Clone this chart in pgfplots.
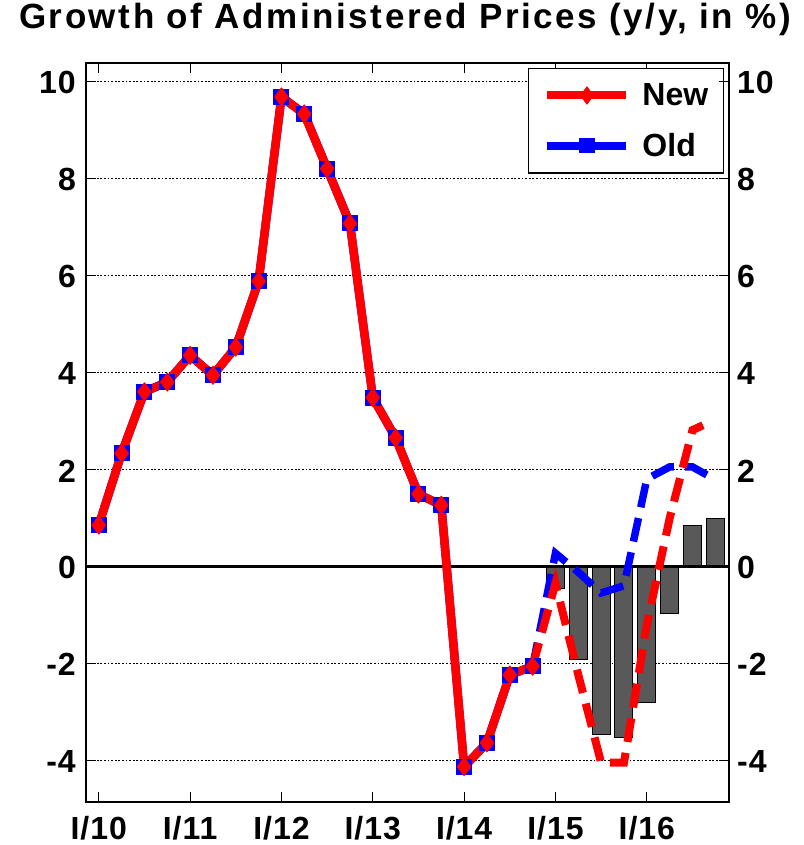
\documentclass[border=0pt]{standalone}
\usepackage{fontspec}
\setmainfont{Liberation Sans}
\newfontfamily\titlefont[LetterSpace=7.4]{Liberation Sans}
\newfontfamily\tickfont[LetterSpace=3]{Liberation Sans}
\usepackage{pgfplots}
\pgfplotsset{compat=1.18}
\definecolor{bargray}{RGB}{89,89,89}
\pgfplotsset{
 common/.style={
  scale only axis, width=643pt, height=739pt,
  xmin=-0.56, xmax=27.6, ymin=-4.86, ymax=10.38,
  axis line style={line width=2.5pt},
  ytick={-4,-2,...,10}, yticklabels={-4,-2,0,2,4,6,8,10},
  tick align=inside,
  major tick length=10pt,
  every tick/.style={black, line width=1.2pt},
  tick label style={font=\fontsize{32}{32}\tickfont\bfseries, inner sep=0pt},
 }
}
\begin{document}
\begin{tikzpicture}
\begin{axis}[common,
  xtick={0,4,...,24},
  xticklabels={I/10,I/11,I/12,I/13,I/14,I/15,I/16},
  xticklabel style={anchor=north, yshift=-14.5pt},
  yticklabel style={anchor=east, xshift=-10pt, yshift=-1.5pt},
  ymajorgrids,
  grid style={black, line width=1pt, dash pattern=on 1.8pt off 1.8pt},
  title={\fontsize{35}{35}\titlefont\bfseries Growth of Administered Prices (y/y, in \%)},
  title style={at={(0.5,1)}, anchor=base, yshift=28pt, xshift=-2.5pt, inner sep=0pt},
  legend style={at={(1,1)}, anchor=north east, xshift=-5pt, yshift=-5pt,
    draw=black, line width=1.5pt, fill=white,
    font=\fontsize{32}{32}\selectfont\bfseries,
    inner xsep=15pt, inner ysep=15pt, row sep=26pt, column sep=12pt,
    cells={anchor=west}, nodes={inner sep=0pt}},
  legend cell align=left,
  legend image code/.code={\draw[mark repeat=2,mark phase=2,#1] plot coordinates {(0pt,0pt) (39.5pt,0pt) (79pt,0pt)};},
]
\addlegendimage{red, line width=8pt, mark=diamond*, mark size=8.5pt, mark options={solid,fill=red,draw=red,line width=1pt}}
\addlegendentry{New}
\addlegendimage{blue, line width=8pt, mark=square*, mark size=7.3pt, mark options={solid,fill=blue,draw=blue,line width=1pt}}
\addlegendentry{Old}

% bars
\addplot[ybar, bar width=18pt, fill=bargray, draw=black, line width=1pt, forget plot] coordinates {
(19,-0.03) (20,-0.45) (21,-1.93) (22,-3.46) (23,-3.53) (24,-2.81) (25,-0.98) (26,0.84) (27,0.99)};
% zero line
\addplot[black, line width=2.5pt, forget plot] coordinates {(-0.56,0) (27.6,0)};
% Old history
\addplot[blue, line width=8.5pt, line join=round, mark=square*, mark size=7.5pt, mark options={solid,fill=blue,draw=blue,line width=1pt}, forget plot] coordinates {
(0,0.85) (1,2.33) (2,3.6) (3,3.8) (4,4.35) (5,3.94) (6,4.52) (7,5.88) (8,9.68) (9,9.33)
(10,8.2) (11,7.07) (12,3.48) (13,2.65) (14,1.49) (15,1.26) (16,-4.13) (17,-3.64) (18,-2.24) (19,-2.06)};
% Old forecast
\addplot[blue, line width=7.5pt, dash pattern=on 24pt off 11pt, forget plot] coordinates {
(19,-2.06) (20,0.27) (21,-0.12) (22,-0.55) (23,-0.4) (24,1.8) (25,2.05) (26,2.05) (26.65,1.88)};
% New history
\addplot[red, line width=8.5pt, line join=round, mark=diamond*, mark size=9pt, mark options={solid,fill=red,draw=red,line width=1pt}, forget plot] coordinates {
(0,0.85) (1,2.33) (2,3.6) (3,3.8) (4,4.35) (5,3.94) (6,4.52) (7,5.88) (8,9.68) (9,9.33)
(10,8.2) (11,7.07) (12,3.48) (13,2.65) (14,1.49) (15,1.26) (16,-4.13) (17,-3.64) (18,-2.24) (19,-2.06)};
% New forecast
\addplot[red, line width=8pt, dash pattern=on 24pt off 11pt, forget plot] coordinates {
(19,-2.06) (20,-0.35) (21,-2.24) (22,-4.05) (23,-4.05) (24,-1.21) (25,0.99) (26,2.81) (26.46,2.91)};
\end{axis}
\begin{axis}[common,
  xtick=\empty,
  yticklabel pos=right,
  yticklabel style={anchor=west, xshift=8pt, yshift=-1.5pt},
]
\end{axis}
\pgfresetboundingbox
\path[use as bounding box] (-86pt,-43pt) rectangle (717pt,802pt);
\end{tikzpicture}
\end{document}
